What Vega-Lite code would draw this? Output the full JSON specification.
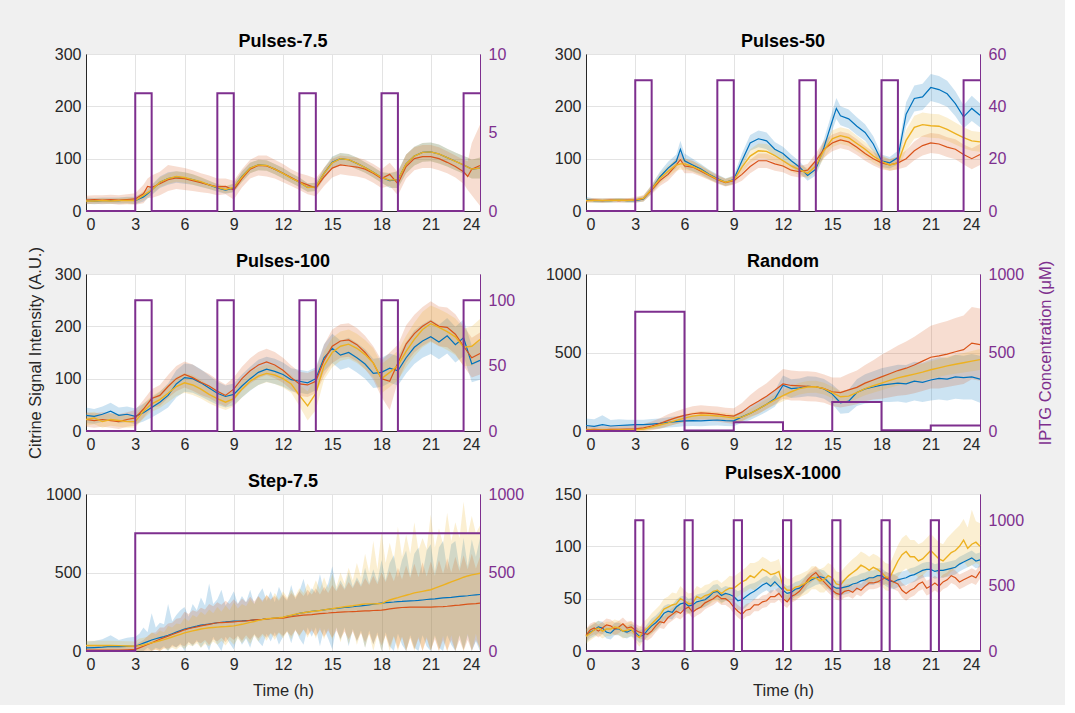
{
"$schema": "https://vega.github.io/schema/vega-lite/v6.json",
"background": "#f0f0f0",
"padding": {"left": 26, "top": 32, "right": 10, "bottom": 6},
"columns": 2,
"bounds": "flush",
"spacing": {"row": 63, "column": 106},
"datasets": {
"p1": [
{"t":0,"b":20,"bl":14,"bh":26,"o":21,"ol":13,"oh":29,"y":19,"yl":14,"yh":24},
{"t":0.5,"b":19,"bl":13,"bh":25,"o":22,"ol":14,"oh":30,"y":19,"yl":14,"yh":24},
{"t":1,"b":20,"bl":14,"bh":26,"o":21,"ol":13,"oh":30,"y":20,"yl":15,"yh":25},
{"t":1.5,"b":20,"bl":14,"bh":26,"o":22,"ol":14,"oh":31,"y":19,"yl":14,"yh":24},
{"t":2,"b":20,"bl":14,"bh":26,"o":21,"ol":12,"oh":30,"y":20,"yl":15,"yh":25},
{"t":2.5,"b":21,"bl":15,"bh":27,"o":22,"ol":13,"oh":32,"y":20,"yl":14,"yh":26},
{"t":3,"b":20,"bl":13,"bh":27,"o":23,"ol":12,"oh":34,"y":20,"yl":14,"yh":26},
{"t":3.5,"b":27,"bl":18,"bh":36,"o":33,"ol":15,"oh":50,"y":30,"yl":22,"yh":38},
{"t":3.75,"b":33,"bl":24,"bh":42,"o":47,"ol":25,"oh":62,"y":35,"yl":27,"yh":43},
{"t":4,"b":40,"bl":30,"bh":50,"o":45,"ol":25,"oh":68,"y":40,"yl":32,"yh":48},
{"t":4.5,"b":55,"bl":44,"bh":66,"o":52,"ol":30,"oh":75,"y":55,"yl":46,"yh":64},
{"t":5,"b":62,"bl":50,"bh":74,"o":60,"ol":38,"oh":88,"y":62,"yl":52,"yh":72},
{"t":5.5,"b":65,"bl":54,"bh":76,"o":63,"ol":42,"oh":85,"y":66,"yl":56,"yh":76},
{"t":6,"b":63,"bl":52,"bh":74,"o":62,"ol":40,"oh":82,"y":64,"yl":54,"yh":74},
{"t":6.5,"b":60,"bl":50,"bh":70,"o":58,"ol":38,"oh":78,"y":60,"yl":50,"yh":70},
{"t":7,"b":55,"bl":46,"bh":64,"o":54,"ol":36,"oh":72,"y":56,"yl":47,"yh":65},
{"t":7.5,"b":50,"bl":42,"bh":58,"o":50,"ol":34,"oh":68,"y":50,"yl":42,"yh":58},
{"t":8,"b":44,"bl":37,"bh":51,"o":46,"ol":30,"oh":62,"y":45,"yl":38,"yh":52},
{"t":8.5,"b":40,"bl":33,"bh":47,"o":47,"ol":32,"oh":62,"y":41,"yl":34,"yh":48},
{"t":9,"b":44,"bl":36,"bh":52,"o":40,"ol":22,"oh":58,"y":45,"yl":37,"yh":53},
{"t":9.5,"b":66,"bl":56,"bh":76,"o":62,"ol":45,"oh":80,"y":65,"yl":55,"yh":75},
{"t":10,"b":82,"bl":72,"bh":92,"o":80,"ol":62,"oh":98,"y":82,"yl":72,"yh":92},
{"t":10.5,"b":88,"bl":78,"bh":98,"o":87,"ol":68,"oh":106,"y":88,"yl":78,"yh":98},
{"t":11,"b":87,"bl":77,"bh":97,"o":86,"ol":66,"oh":106,"y":87,"yl":77,"yh":97},
{"t":11.5,"b":80,"bl":70,"bh":90,"o":80,"ol":62,"oh":98,"y":80,"yl":70,"yh":90},
{"t":12,"b":72,"bl":62,"bh":82,"o":72,"ol":55,"oh":90,"y":72,"yl":62,"yh":82},
{"t":12.5,"b":63,"bl":54,"bh":72,"o":64,"ol":48,"oh":80,"y":63,"yl":54,"yh":72},
{"t":13,"b":55,"bl":46,"bh":64,"o":56,"ol":40,"oh":72,"y":55,"yl":46,"yh":64},
{"t":13.5,"b":45,"bl":37,"bh":53,"o":50,"ol":32,"oh":68,"y":45,"yl":37,"yh":53},
{"t":14,"b":46,"bl":38,"bh":54,"o":44,"ol":28,"oh":62,"y":46,"yl":38,"yh":54},
{"t":14.5,"b":72,"bl":62,"bh":82,"o":65,"ol":48,"oh":82,"y":72,"yl":62,"yh":82},
{"t":15,"b":93,"bl":82,"bh":104,"o":82,"ol":64,"oh":100,"y":92,"yl":81,"yh":103},
{"t":15.5,"b":100,"bl":89,"bh":111,"o":88,"ol":70,"oh":106,"y":100,"yl":89,"yh":111},
{"t":16,"b":98,"bl":87,"bh":109,"o":86,"ol":68,"oh":104,"y":98,"yl":87,"yh":109},
{"t":16.5,"b":91,"bl":80,"bh":102,"o":84,"ol":66,"oh":102,"y":91,"yl":80,"yh":102},
{"t":17,"b":83,"bl":73,"bh":93,"o":80,"ol":62,"oh":98,"y":83,"yl":73,"yh":93},
{"t":17.5,"b":74,"bl":64,"bh":84,"o":72,"ol":54,"oh":90,"y":74,"yl":64,"yh":84},
{"t":18,"b":64,"bl":54,"bh":74,"o":62,"ol":44,"oh":80,"y":64,"yl":54,"yh":74},
{"t":18.5,"b":58,"bl":44,"bh":72,"o":70,"ol":48,"oh":92,"y":59,"yl":45,"yh":73},
{"t":19,"b":60,"bl":44,"bh":76,"o":52,"ol":30,"oh":74,"y":60,"yl":44,"yh":76},
{"t":19.5,"b":90,"bl":72,"bh":108,"o":85,"ol":62,"oh":108,"y":90,"yl":72,"yh":108},
{"t":20,"b":105,"bl":87,"bh":123,"o":100,"ol":78,"oh":122,"y":105,"yl":87,"yh":123},
{"t":20.5,"b":112,"bl":94,"bh":130,"o":104,"ol":82,"oh":126,"y":112,"yl":94,"yh":130},
{"t":21,"b":113,"bl":95,"bh":131,"o":104,"ol":82,"oh":126,"y":113,"yl":95,"yh":131},
{"t":21.5,"b":109,"bl":91,"bh":127,"o":100,"ol":78,"oh":122,"y":109,"yl":91,"yh":127},
{"t":22,"b":102,"bl":85,"bh":119,"o":93,"ol":72,"oh":114,"y":102,"yl":85,"yh":119},
{"t":22.5,"b":95,"bl":78,"bh":112,"o":85,"ol":64,"oh":106,"y":95,"yl":78,"yh":112},
{"t":23,"b":88,"bl":71,"bh":105,"o":75,"ol":52,"oh":98,"y":88,"yl":71,"yh":105},
{"t":23.25,"b":84,"bl":66,"bh":102,"o":66,"ol":40,"oh":95,"y":84,"yl":66,"yh":102},
{"t":23.5,"b":80,"bl":62,"bh":98,"o":80,"ol":30,"oh":130,"y":80,"yl":62,"yh":98},
{"t":24,"b":82,"bl":62,"bh":102,"o":87,"ol":10,"oh":165,"y":82,"yl":62,"yh":102}
],
"p2": [
{"t":0,"b":22,"bl":18,"bh":27,"o":20,"ol":16,"oh":24,"y":20,"yl":16,"yh":24},
{"t":0.5,"b":20,"bl":16,"bh":24,"o":21,"ol":17,"oh":25,"y":20,"yl":16,"yh":24},
{"t":1,"b":20,"bl":16,"bh":24,"o":20,"ol":16,"oh":24,"y":20,"yl":16,"yh":24},
{"t":1.5,"b":20,"bl":16,"bh":24,"o":21,"ol":17,"oh":25,"y":20,"yl":16,"yh":24},
{"t":2,"b":21,"bl":17,"bh":25,"o":20,"ol":16,"oh":24,"y":21,"yl":17,"yh":25},
{"t":2.5,"b":20,"bl":16,"bh":24,"o":21,"ol":17,"oh":25,"y":20,"yl":16,"yh":24},
{"t":3,"b":20,"bl":16,"bh":24,"o":21,"ol":17,"oh":25,"y":21,"yl":16,"yh":27},
{"t":3.5,"b":23,"bl":18,"bh":28,"o":24,"ol":18,"oh":30,"y":24,"yl":18,"yh":30},
{"t":4,"b":42,"bl":34,"bh":50,"o":40,"ol":32,"oh":48,"y":42,"yl":34,"yh":50},
{"t":4.5,"b":65,"bl":55,"bh":75,"o":58,"ol":48,"oh":68,"y":62,"yl":52,"yh":72},
{"t":5,"b":82,"bl":70,"bh":94,"o":70,"ol":58,"oh":82,"y":76,"yl":65,"yh":87},
{"t":5.5,"b":95,"bl":82,"bh":108,"o":88,"ol":75,"oh":101,"y":88,"yl":77,"yh":99},
{"t":5.75,"b":118,"bl":102,"bh":134,"o":98,"ol":84,"oh":112,"y":90,"yl":79,"yh":101},
{"t":6,"b":96,"bl":82,"bh":110,"o":86,"ol":72,"oh":100,"y":90,"yl":79,"yh":101},
{"t":6.5,"b":88,"bl":76,"bh":100,"o":84,"ol":72,"oh":96,"y":85,"yl":75,"yh":95},
{"t":7,"b":80,"bl":70,"bh":90,"o":76,"ol":66,"oh":86,"y":78,"yl":68,"yh":88},
{"t":7.5,"b":70,"bl":61,"bh":79,"o":68,"ol":59,"oh":77,"y":69,"yl":60,"yh":78},
{"t":8,"b":62,"bl":54,"bh":70,"o":60,"ol":52,"oh":68,"y":61,"yl":53,"yh":69},
{"t":8.5,"b":55,"bl":48,"bh":62,"o":54,"ol":47,"oh":61,"y":55,"yl":48,"yh":62},
{"t":9,"b":60,"bl":52,"bh":68,"o":58,"ol":50,"oh":66,"y":59,"yl":51,"yh":67},
{"t":9.5,"b":96,"bl":82,"bh":110,"o":70,"ol":58,"oh":82,"y":84,"yl":72,"yh":96},
{"t":10,"b":130,"bl":115,"bh":145,"o":85,"ol":72,"oh":98,"y":105,"yl":92,"yh":118},
{"t":10.5,"b":138,"bl":122,"bh":154,"o":96,"ol":82,"oh":110,"y":115,"yl":101,"yh":129},
{"t":11,"b":134,"bl":118,"bh":150,"o":96,"ol":82,"oh":110,"y":114,"yl":100,"yh":128},
{"t":11.5,"b":118,"bl":104,"bh":132,"o":90,"ol":77,"oh":103,"y":106,"yl":93,"yh":119},
{"t":12,"b":110,"bl":97,"bh":123,"o":86,"ol":74,"oh":98,"y":96,"yl":84,"yh":108},
{"t":12.5,"b":96,"bl":84,"bh":108,"o":78,"ol":67,"oh":89,"y":86,"yl":75,"yh":97},
{"t":13,"b":84,"bl":73,"bh":95,"o":75,"ol":64,"oh":86,"y":79,"yl":69,"yh":89},
{"t":13.5,"b":68,"bl":58,"bh":78,"o":78,"ol":66,"oh":90,"y":72,"yl":62,"yh":82},
{"t":14,"b":80,"bl":68,"bh":92,"o":96,"ol":82,"oh":110,"y":86,"yl":74,"yh":98},
{"t":14.5,"b":122,"bl":106,"bh":138,"o":118,"ol":102,"oh":134,"y":116,"yl":101,"yh":131},
{"t":15,"b":172,"bl":154,"bh":190,"o":130,"ol":114,"oh":146,"y":138,"yl":122,"yh":154},
{"t":15.25,"b":196,"bl":176,"bh":216,"o":133,"ol":117,"oh":149,"y":141,"yl":125,"yh":157},
{"t":15.5,"b":182,"bl":164,"bh":200,"o":136,"ol":120,"oh":152,"y":144,"yl":128,"yh":160},
{"t":16,"b":176,"bl":158,"bh":194,"o":132,"ol":116,"oh":148,"y":140,"yl":124,"yh":156},
{"t":16.5,"b":162,"bl":145,"bh":179,"o":122,"ol":107,"oh":137,"y":129,"yl":114,"yh":144},
{"t":17,"b":150,"bl":134,"bh":166,"o":110,"ol":96,"oh":124,"y":118,"yl":104,"yh":132},
{"t":17.5,"b":128,"bl":113,"bh":143,"o":100,"ol":87,"oh":113,"y":105,"yl":92,"yh":118},
{"t":18,"b":96,"bl":84,"bh":108,"o":92,"ol":80,"oh":104,"y":95,"yl":83,"yh":107},
{"t":18.5,"b":92,"bl":81,"bh":103,"o":88,"ol":77,"oh":99,"y":88,"yl":77,"yh":99},
{"t":19,"b":102,"bl":89,"bh":115,"o":92,"ol":80,"oh":104,"y":92,"yl":80,"yh":104},
{"t":19.5,"b":185,"bl":162,"bh":208,"o":100,"ol":84,"oh":116,"y":135,"yl":115,"yh":155},
{"t":20,"b":215,"bl":190,"bh":240,"o":115,"ol":97,"oh":133,"y":160,"yl":138,"yh":182},
{"t":20.5,"b":218,"bl":193,"bh":243,"o":125,"ol":106,"oh":144,"y":165,"yl":142,"yh":188},
{"t":21,"b":236,"bl":210,"bh":262,"o":130,"ol":111,"oh":149,"y":163,"yl":140,"yh":186},
{"t":21.5,"b":232,"bl":206,"bh":258,"o":128,"ol":109,"oh":147,"y":162,"yl":139,"yh":185},
{"t":22,"b":224,"bl":199,"bh":249,"o":122,"ol":103,"oh":141,"y":156,"yl":134,"yh":178},
{"t":22.5,"b":205,"bl":181,"bh":229,"o":118,"ol":99,"oh":137,"y":148,"yl":127,"yh":169},
{"t":23,"b":180,"bl":158,"bh":202,"o":108,"ol":89,"oh":127,"y":140,"yl":120,"yh":160},
{"t":23.5,"b":196,"bl":172,"bh":220,"o":100,"ol":80,"oh":120,"y":134,"yl":115,"yh":153},
{"t":24,"b":183,"bl":160,"bh":206,"o":108,"ol":88,"oh":128,"y":132,"yl":113,"yh":151}
],
"p3": [
{"t":0,"b":30,"bl":15,"bh":45,"o":22,"ol":8,"oh":36,"y":22,"yl":10,"yh":34},
{"t":0.5,"b":28,"bl":14,"bh":42,"o":20,"ol":6,"oh":34,"y":25,"yl":13,"yh":37},
{"t":1,"b":32,"bl":17,"bh":47,"o":22,"ol":8,"oh":36,"y":18,"yl":6,"yh":30},
{"t":1.5,"b":38,"bl":22,"bh":54,"o":20,"ol":6,"oh":34,"y":22,"yl":10,"yh":34},
{"t":2,"b":30,"bl":15,"bh":45,"o":18,"ol":4,"oh":32,"y":20,"yl":8,"yh":32},
{"t":2.5,"b":32,"bl":17,"bh":47,"o":22,"ol":8,"oh":36,"y":18,"yl":6,"yh":30},
{"t":3,"b":28,"bl":13,"bh":43,"o":25,"ol":10,"oh":40,"y":18,"yl":6,"yh":30},
{"t":3.5,"b":35,"bl":18,"bh":52,"o":42,"ol":25,"oh":59,"y":38,"yl":24,"yh":52},
{"t":4,"b":45,"bl":26,"bh":64,"o":62,"ol":44,"oh":80,"y":52,"yl":37,"yh":67},
{"t":4.5,"b":55,"bl":35,"bh":75,"o":68,"ol":48,"oh":88,"y":60,"yl":44,"yh":76},
{"t":5,"b":68,"bl":45,"bh":91,"o":85,"ol":63,"oh":107,"y":72,"yl":55,"yh":89},
{"t":5.5,"b":90,"bl":64,"bh":116,"o":100,"ol":76,"oh":124,"y":85,"yl":67,"yh":103},
{"t":6,"b":102,"bl":75,"bh":129,"o":108,"ol":83,"oh":133,"y":92,"yl":73,"yh":111},
{"t":6.5,"b":100,"bl":73,"bh":127,"o":102,"ol":77,"oh":127,"y":88,"yl":69,"yh":107},
{"t":7,"b":92,"bl":66,"bh":118,"o":93,"ol":69,"oh":117,"y":80,"yl":62,"yh":98},
{"t":7.5,"b":82,"bl":58,"bh":106,"o":86,"ol":63,"oh":109,"y":70,"yl":53,"yh":87},
{"t":8,"b":72,"bl":50,"bh":94,"o":76,"ol":54,"oh":98,"y":62,"yl":46,"yh":78},
{"t":8.5,"b":66,"bl":45,"bh":87,"o":68,"ol":47,"oh":89,"y":55,"yl":40,"yh":70},
{"t":9,"b":70,"bl":49,"bh":91,"o":80,"ol":58,"oh":102,"y":62,"yl":47,"yh":77},
{"t":9.5,"b":86,"bl":64,"bh":108,"o":100,"ol":77,"oh":123,"y":80,"yl":64,"yh":96},
{"t":10,"b":100,"bl":77,"bh":123,"o":115,"ol":91,"oh":139,"y":95,"yl":78,"yh":112},
{"t":10.5,"b":112,"bl":88,"bh":136,"o":126,"ol":101,"oh":151,"y":105,"yl":88,"yh":122},
{"t":11,"b":118,"bl":94,"bh":142,"o":132,"ol":107,"oh":157,"y":110,"yl":93,"yh":127},
{"t":11.5,"b":114,"bl":90,"bh":138,"o":126,"ol":101,"oh":151,"y":107,"yl":90,"yh":124},
{"t":12,"b":108,"bl":85,"bh":131,"o":116,"ol":92,"oh":140,"y":100,"yl":83,"yh":117},
{"t":12.5,"b":98,"bl":76,"bh":120,"o":102,"ol":79,"oh":125,"y":90,"yl":73,"yh":107},
{"t":13,"b":95,"bl":73,"bh":117,"o":90,"ol":67,"oh":113,"y":68,"yl":48,"yh":88},
{"t":13.5,"b":92,"bl":70,"bh":114,"o":88,"ol":65,"oh":111,"y":48,"yl":20,"yh":76},
{"t":14,"b":100,"bl":78,"bh":122,"o":95,"ol":72,"oh":118,"y":72,"yl":40,"yh":104},
{"t":14.5,"b":140,"bl":114,"bh":166,"o":135,"ol":105,"oh":165,"y":125,"yl":98,"yh":152},
{"t":15,"b":158,"bl":130,"bh":186,"o":162,"ol":130,"oh":194,"y":150,"yl":122,"yh":178},
{"t":15.5,"b":145,"bl":117,"bh":173,"o":172,"ol":140,"oh":204,"y":162,"yl":134,"yh":190},
{"t":16,"b":150,"bl":122,"bh":178,"o":174,"ol":142,"oh":206,"y":166,"yl":138,"yh":194},
{"t":16.5,"b":140,"bl":112,"bh":168,"o":165,"ol":133,"oh":197,"y":158,"yl":130,"yh":186},
{"t":17,"b":128,"bl":100,"bh":156,"o":150,"ol":118,"oh":182,"y":146,"yl":118,"yh":174},
{"t":17.5,"b":110,"bl":82,"bh":138,"o":130,"ol":98,"oh":162,"y":130,"yl":102,"yh":158},
{"t":18,"b":112,"bl":84,"bh":140,"o":100,"ol":65,"oh":135,"y":100,"yl":72,"yh":128},
{"t":18.5,"b":120,"bl":92,"bh":148,"o":95,"ol":40,"oh":150,"y":112,"yl":84,"yh":140},
{"t":19,"b":115,"bl":87,"bh":143,"o":130,"ol":95,"oh":165,"y":125,"yl":97,"yh":153},
{"t":19.5,"b":140,"bl":110,"bh":170,"o":166,"ol":130,"oh":202,"y":152,"yl":122,"yh":182},
{"t":20,"b":160,"bl":128,"bh":192,"o":186,"ol":150,"oh":222,"y":175,"yl":143,"yh":207},
{"t":20.5,"b":172,"bl":140,"bh":204,"o":200,"ol":163,"oh":237,"y":194,"yl":160,"yh":228},
{"t":21,"b":180,"bl":147,"bh":213,"o":210,"ol":172,"oh":248,"y":205,"yl":170,"yh":240},
{"t":21.5,"b":170,"bl":137,"bh":203,"o":200,"ol":162,"oh":238,"y":198,"yl":163,"yh":233},
{"t":22,"b":182,"bl":148,"bh":216,"o":198,"ol":160,"oh":236,"y":190,"yl":155,"yh":225},
{"t":22.5,"b":165,"bl":131,"bh":199,"o":185,"ol":147,"oh":223,"y":180,"yl":145,"yh":215},
{"t":23,"b":178,"bl":143,"bh":213,"o":162,"ol":124,"oh":200,"y":160,"yl":124,"yh":196},
{"t":23.5,"b":128,"bl":93,"bh":163,"o":140,"ol":102,"oh":178,"y":162,"yl":124,"yh":200},
{"t":24,"b":135,"bl":98,"bh":172,"o":148,"ol":108,"oh":188,"y":175,"yl":136,"yh":214}
],
"p4": [
{"t":0,"b":35,"bl":0,"bh":80,"o":8,"ol":0,"oh":30,"y":5,"yl":0,"yh":20},
{"t":0.5,"b":30,"bl":0,"bh":75,"o":10,"ol":0,"oh":32,"y":5,"yl":0,"yh":20},
{"t":1,"b":40,"bl":0,"bh":100,"o":8,"ol":0,"oh":30,"y":5,"yl":0,"yh":20},
{"t":1.5,"b":32,"bl":0,"bh":70,"o":10,"ol":0,"oh":32,"y":5,"yl":0,"yh":20},
{"t":2,"b":35,"bl":0,"bh":75,"o":10,"ol":0,"oh":32,"y":6,"yl":0,"yh":21},
{"t":2.5,"b":38,"bl":5,"bh":71,"o":12,"ol":0,"oh":35,"y":6,"yl":0,"yh":21},
{"t":3,"b":40,"bl":8,"bh":72,"o":14,"ol":0,"oh":38,"y":8,"yl":0,"yh":24},
{"t":3.5,"b":40,"bl":8,"bh":72,"o":20,"ol":0,"oh":45,"y":12,"yl":0,"yh":30},
{"t":4,"b":44,"bl":12,"bh":76,"o":32,"ol":5,"oh":60,"y":25,"yl":8,"yh":42},
{"t":4.5,"b":48,"bl":16,"bh":80,"o":48,"ol":15,"oh":81,"y":38,"yl":18,"yh":58},
{"t":5,"b":55,"bl":22,"bh":88,"o":68,"ol":30,"oh":106,"y":52,"yl":30,"yh":74},
{"t":5.5,"b":60,"bl":26,"bh":94,"o":85,"ol":44,"oh":126,"y":68,"yl":45,"yh":91},
{"t":6,"b":65,"bl":30,"bh":100,"o":100,"ol":56,"oh":144,"y":82,"yl":58,"yh":106},
{"t":6.5,"b":66,"bl":32,"bh":100,"o":110,"ol":62,"oh":158,"y":95,"yl":70,"yh":120},
{"t":7,"b":65,"bl":30,"bh":100,"o":115,"ol":66,"oh":164,"y":102,"yl":77,"yh":127},
{"t":7.5,"b":68,"bl":33,"bh":103,"o":112,"ol":64,"oh":160,"y":100,"yl":75,"yh":125},
{"t":8,"b":70,"bl":35,"bh":105,"o":108,"ol":60,"oh":156,"y":96,"yl":71,"yh":121},
{"t":8.5,"b":66,"bl":32,"bh":100,"o":100,"ol":52,"oh":148,"y":90,"yl":65,"yh":115},
{"t":9,"b":65,"bl":30,"bh":100,"o":95,"ol":45,"oh":145,"y":82,"yl":57,"yh":107},
{"t":9.5,"b":90,"bl":52,"bh":128,"o":120,"ol":62,"oh":178,"y":88,"yl":62,"yh":114},
{"t":10,"b":112,"bl":70,"bh":154,"o":160,"ol":90,"oh":230,"y":112,"yl":84,"yh":140},
{"t":10.5,"b":140,"bl":95,"bh":185,"o":190,"ol":110,"oh":270,"y":140,"yl":110,"yh":170},
{"t":11,"b":170,"bl":122,"bh":218,"o":222,"ol":140,"oh":304,"y":170,"yl":138,"yh":202},
{"t":11.5,"b":205,"bl":155,"bh":255,"o":260,"ol":170,"oh":350,"y":198,"yl":165,"yh":231},
{"t":12,"b":292,"bl":230,"bh":354,"o":300,"ol":205,"oh":395,"y":225,"yl":190,"yh":260},
{"t":12.5,"b":270,"bl":210,"bh":330,"o":290,"ol":195,"oh":385,"y":250,"yl":214,"yh":286},
{"t":13,"b":275,"bl":215,"bh":335,"o":288,"ol":195,"oh":381,"y":270,"yl":233,"yh":307},
{"t":13.5,"b":285,"bl":222,"bh":348,"o":285,"ol":190,"oh":380,"y":280,"yl":242,"yh":318},
{"t":14,"b":282,"bl":218,"bh":346,"o":282,"ol":188,"oh":376,"y":282,"yl":244,"yh":320},
{"t":14.5,"b":268,"bl":205,"bh":331,"o":270,"ol":180,"oh":360,"y":270,"yl":232,"yh":308},
{"t":15,"b":235,"bl":172,"bh":298,"o":250,"ol":160,"oh":340,"y":245,"yl":208,"yh":282},
{"t":15.5,"b":180,"bl":110,"bh":250,"o":245,"ol":150,"oh":340,"y":218,"yl":180,"yh":256},
{"t":16,"b":190,"bl":115,"bh":265,"o":262,"ol":160,"oh":364,"y":222,"yl":183,"yh":261},
{"t":16.5,"b":245,"bl":160,"bh":330,"o":278,"ol":170,"oh":386,"y":245,"yl":205,"yh":285},
{"t":17,"b":268,"bl":175,"bh":361,"o":305,"ol":190,"oh":420,"y":270,"yl":228,"yh":312},
{"t":17.5,"b":280,"bl":180,"bh":380,"o":325,"ol":200,"oh":450,"y":288,"yl":244,"yh":332},
{"t":18,"b":292,"bl":185,"bh":399,"o":345,"ol":205,"oh":485,"y":305,"yl":260,"yh":350},
{"t":18.5,"b":298,"bl":185,"bh":411,"o":365,"ol":215,"oh":515,"y":322,"yl":275,"yh":369},
{"t":19,"b":305,"bl":188,"bh":422,"o":385,"ol":225,"oh":545,"y":338,"yl":290,"yh":386},
{"t":19.5,"b":300,"bl":180,"bh":420,"o":400,"ol":230,"oh":570,"y":350,"yl":300,"yh":400},
{"t":20,"b":318,"bl":195,"bh":441,"o":420,"ol":240,"oh":600,"y":362,"yl":310,"yh":414},
{"t":20.5,"b":310,"bl":185,"bh":435,"o":445,"ol":255,"oh":635,"y":375,"yl":322,"yh":428},
{"t":21,"b":325,"bl":195,"bh":455,"o":470,"ol":270,"oh":670,"y":390,"yl":335,"yh":445},
{"t":21.5,"b":335,"bl":200,"bh":470,"o":478,"ol":270,"oh":686,"y":402,"yl":345,"yh":459},
{"t":22,"b":330,"bl":195,"bh":465,"o":490,"ol":280,"oh":700,"y":415,"yl":356,"yh":474},
{"t":22.5,"b":345,"bl":205,"bh":485,"o":505,"ol":290,"oh":720,"y":425,"yl":365,"yh":485},
{"t":23,"b":340,"bl":200,"bh":480,"o":518,"ol":300,"oh":736,"y":435,"yl":373,"yh":497},
{"t":23.5,"b":345,"bl":200,"bh":490,"o":560,"ol":330,"oh":790,"y":445,"yl":380,"yh":510},
{"t":24,"b":330,"bl":180,"bh":480,"o":550,"ol":320,"oh":780,"y":455,"yl":388,"yh":522}
],
"p5": [
{"t":0,"b":20,"bl":0,"bh":60,"o":5,"ol":0,"oh":30,"y":35,"yl":5,"yh":65},
{"t":0.5,"b":22,"bl":0,"bh":64,"o":5,"ol":0,"oh":30,"y":35,"yl":5,"yh":65},
{"t":1,"b":25,"bl":0,"bh":75,"o":6,"ol":0,"oh":32,"y":36,"yl":6,"yh":66},
{"t":1.5,"b":30,"bl":0,"bh":100,"o":6,"ol":0,"oh":32,"y":35,"yl":5,"yh":65},
{"t":2,"b":28,"bl":0,"bh":70,"o":6,"ol":0,"oh":32,"y":34,"yl":4,"yh":64},
{"t":2.5,"b":30,"bl":0,"bh":85,"o":8,"ol":0,"oh":35,"y":32,"yl":2,"yh":62},
{"t":3,"b":30,"bl":0,"bh":90,"o":10,"ol":0,"oh":38,"y":30,"yl":0,"yh":60},
{"t":3.25,"b":40,"bl":0,"bh":110,"o":20,"ol":0,"oh":55,"y":34,"yl":0,"yh":80},
{"t":3.5,"b":50,"bl":0,"bh":150,"o":30,"ol":0,"oh":70,"y":38,"yl":0,"yh":85},
{"t":3.75,"b":60,"bl":20,"bh":120,"o":42,"ol":0,"oh":95,"y":45,"yl":5,"yh":90},
{"t":4,"b":70,"bl":0,"bh":240,"o":52,"ol":0,"oh":115,"y":52,"yl":0,"yh":120},
{"t":4.25,"b":78,"bl":20,"bh":150,"o":64,"ol":10,"oh":120,"y":58,"yl":10,"yh":105},
{"t":4.5,"b":85,"bl":10,"bh":180,"o":75,"ol":0,"oh":150,"y":65,"yl":0,"yh":130},
{"t":4.75,"b":92,"bl":30,"bh":170,"o":85,"ol":20,"oh":150,"y":72,"yl":15,"yh":120},
{"t":5,"b":100,"bl":0,"bh":300,"o":95,"ol":15,"oh":175,"y":80,"yl":5,"yh":160},
{"t":5.25,"b":110,"bl":40,"bh":190,"o":105,"ol":30,"oh":180,"y":89,"yl":20,"yh":150},
{"t":5.5,"b":120,"bl":20,"bh":230,"o":115,"ol":25,"oh":205,"y":98,"yl":10,"yh":175},
{"t":5.75,"b":130,"bl":50,"bh":260,"o":125,"ol":40,"oh":210,"y":106,"yl":30,"yh":170},
{"t":6,"b":140,"bl":0,"bh":280,"o":135,"ol":30,"oh":250,"y":115,"yl":15,"yh":210},
{"t":6.25,"b":146,"bl":60,"bh":220,"o":142,"ol":55,"oh":235,"y":122,"yl":40,"yh":190},
{"t":6.5,"b":152,"bl":30,"bh":300,"o":148,"ol":40,"oh":260,"y":128,"yl":30,"yh":230},
{"t":6.75,"b":158,"bl":70,"bh":260,"o":154,"ol":60,"oh":250,"y":134,"yl":50,"yh":215},
{"t":7,"b":165,"bl":20,"bh":340,"o":160,"ol":50,"oh":275,"y":140,"yl":20,"yh":250},
{"t":7.25,"b":168,"bl":60,"bh":290,"o":165,"ol":70,"oh":265,"y":144,"yl":45,"yh":230},
{"t":7.5,"b":172,"bl":0,"bh":430,"o":170,"ol":40,"oh":300,"y":148,"yl":30,"yh":265},
{"t":7.75,"b":176,"bl":90,"bh":300,"o":175,"ol":75,"oh":285,"y":150,"yl":60,"yh":240},
{"t":8,"b":180,"bl":40,"bh":330,"o":180,"ol":60,"oh":310,"y":152,"yl":40,"yh":280},
{"t":8.25,"b":183,"bl":0,"bh":390,"o":181,"ol":85,"oh":295,"y":154,"yl":65,"yh":250},
{"t":8.5,"b":185,"bl":90,"bh":290,"o":182,"ol":55,"oh":320,"y":155,"yl":35,"yh":290},
{"t":8.75,"b":188,"bl":50,"bh":330,"o":184,"ol":90,"oh":300,"y":158,"yl":70,"yh":260},
{"t":9,"b":190,"bl":10,"bh":380,"o":185,"ol":70,"oh":330,"y":160,"yl":40,"yh":310},
{"t":9.25,"b":191,"bl":100,"bh":300,"o":188,"ol":95,"oh":300,"y":165,"yl":80,"yh":270},
{"t":9.5,"b":192,"bl":40,"bh":350,"o":190,"ol":65,"oh":335,"y":170,"yl":50,"yh":300},
{"t":9.75,"b":194,"bl":80,"bh":310,"o":192,"ol":100,"oh":310,"y":176,"yl":85,"yh":285},
{"t":10,"b":195,"bl":20,"bh":390,"o":195,"ol":70,"oh":345,"y":182,"yl":45,"yh":330},
{"t":10.25,"b":198,"bl":110,"bh":300,"o":198,"ol":105,"oh":315,"y":188,"yl":95,"yh":300},
{"t":10.5,"b":200,"bl":60,"bh":360,"o":200,"ol":80,"oh":350,"y":195,"yl":60,"yh":345},
{"t":10.75,"b":202,"bl":30,"bh":400,"o":202,"ol":110,"oh":320,"y":200,"yl":100,"yh":310},
{"t":11,"b":205,"bl":110,"bh":320,"o":205,"ol":85,"oh":355,"y":205,"yl":65,"yh":360},
{"t":11.25,"b":207,"bl":60,"bh":380,"o":206,"ol":115,"oh":330,"y":208,"yl":110,"yh":320},
{"t":11.5,"b":210,"bl":120,"bh":310,"o":208,"ol":90,"oh":350,"y":210,"yl":70,"yh":370},
{"t":11.75,"b":212,"bl":40,"bh":410,"o":209,"ol":120,"oh":320,"y":212,"yl":115,"yh":330},
{"t":12,"b":215,"bl":90,"bh":350,"o":210,"ol":95,"oh":360,"y":215,"yl":80,"yh":380},
{"t":12.25,"b":220,"bl":130,"bh":320,"o":214,"ol":125,"oh":330,"y":222,"yl":125,"yh":340},
{"t":12.5,"b":225,"bl":50,"bh":420,"o":218,"ol":95,"oh":370,"y":228,"yl":75,"yh":390},
{"t":12.75,"b":232,"bl":140,"bh":330,"o":222,"ol":130,"oh":340,"y":234,"yl":135,"yh":350},
{"t":13,"b":240,"bl":80,"bh":380,"o":225,"ol":100,"oh":380,"y":240,"yl":90,"yh":400},
{"t":13.25,"b":244,"bl":40,"bh":460,"o":228,"ol":135,"oh":350,"y":244,"yl":140,"yh":370},
{"t":13.5,"b":248,"bl":150,"bh":350,"o":230,"ol":100,"oh":390,"y":248,"yl":85,"yh":430},
{"t":13.75,"b":252,"bl":90,"bh":400,"o":232,"ol":130,"oh":360,"y":252,"yl":145,"yh":380},
{"t":14,"b":255,"bl":150,"bh":370,"o":235,"ol":95,"oh":400,"y":255,"yl":80,"yh":450},
{"t":14.25,"b":258,"bl":30,"bh":490,"o":238,"ol":135,"oh":360,"y":258,"yl":150,"yh":390},
{"t":14.5,"b":262,"bl":140,"bh":380,"o":240,"ol":90,"oh":410,"y":262,"yl":75,"yh":470},
{"t":14.75,"b":266,"bl":80,"bh":430,"o":242,"ol":130,"oh":370,"y":266,"yl":145,"yh":400},
{"t":15,"b":270,"bl":10,"bh":540,"o":245,"ol":85,"oh":420,"y":270,"yl":70,"yh":490},
{"t":15.25,"b":272,"bl":150,"bh":390,"o":246,"ol":130,"oh":380,"y":274,"yl":150,"yh":410},
{"t":15.5,"b":275,"bl":70,"bh":450,"o":248,"ol":80,"oh":430,"y":278,"yl":55,"yh":500},
{"t":15.75,"b":278,"bl":150,"bh":400,"o":249,"ol":125,"oh":390,"y":282,"yl":140,"yh":430},
{"t":16,"b":280,"bl":30,"bh":500,"o":250,"ol":75,"oh":440,"y":285,"yl":45,"yh":530},
{"t":16.25,"b":282,"bl":140,"bh":410,"o":251,"ol":125,"oh":400,"y":288,"yl":135,"yh":450},
{"t":16.5,"b":285,"bl":60,"bh":470,"o":252,"ol":65,"oh":450,"y":292,"yl":40,"yh":560},
{"t":16.75,"b":288,"bl":130,"bh":420,"o":254,"ol":115,"oh":410,"y":296,"yl":120,"yh":470},
{"t":17,"b":290,"bl":20,"bh":530,"o":255,"ol":55,"oh":465,"y":300,"yl":20,"yh":620},
{"t":17.25,"b":294,"bl":130,"bh":430,"o":256,"ol":110,"oh":420,"y":300,"yl":110,"yh":500},
{"t":17.5,"b":298,"bl":40,"bh":520,"o":258,"ol":45,"oh":480,"y":300,"yl":0,"yh":700},
{"t":17.75,"b":302,"bl":120,"bh":440,"o":259,"ol":105,"oh":425,"y":301,"yl":100,"yh":520},
{"t":18,"b":305,"bl":0,"bh":580,"o":260,"ol":35,"oh":500,"y":302,"yl":0,"yh":760},
{"t":18.25,"b":308,"bl":120,"bh":450,"o":264,"ol":100,"oh":440,"y":314,"yl":100,"yh":560},
{"t":18.5,"b":310,"bl":30,"bh":560,"o":268,"ol":25,"oh":510,"y":325,"yl":0,"yh":690},
{"t":18.75,"b":312,"bl":0,"bh":610,"o":272,"ol":95,"oh":445,"y":333,"yl":90,"yh":580},
{"t":19,"b":315,"bl":110,"bh":470,"o":275,"ol":15,"oh":530,"y":340,"yl":0,"yh":790},
{"t":19.25,"b":316,"bl":40,"bh":580,"o":277,"ol":90,"oh":455,"y":348,"yl":90,"yh":600},
{"t":19.5,"b":318,"bl":0,"bh":640,"o":278,"ol":0,"oh":545,"y":355,"yl":0,"yh":740},
{"t":19.75,"b":319,"bl":100,"bh":480,"o":279,"ol":85,"oh":465,"y":362,"yl":85,"yh":620},
{"t":20,"b":320,"bl":20,"bh":620,"o":280,"ol":10,"oh":555,"y":370,"yl":0,"yh":820},
{"t":20.25,"b":322,"bl":0,"bh":660,"o":280,"ol":80,"oh":470,"y":375,"yl":90,"yh":640},
{"t":20.5,"b":325,"bl":100,"bh":490,"o":280,"ol":0,"oh":565,"y":380,"yl":0,"yh":720},
{"t":20.75,"b":328,"bl":30,"bh":640,"o":280,"ol":80,"oh":475,"y":385,"yl":90,"yh":650},
{"t":21,"b":330,"bl":0,"bh":680,"o":280,"ol":5,"oh":570,"y":390,"yl":0,"yh":870},
{"t":21.25,"b":332,"bl":100,"bh":500,"o":281,"ol":75,"oh":480,"y":400,"yl":90,"yh":660},
{"t":21.5,"b":335,"bl":20,"bh":660,"o":282,"ol":0,"oh":580,"y":410,"yl":0,"yh":780},
{"t":21.75,"b":338,"bl":0,"bh":700,"o":283,"ol":70,"oh":490,"y":420,"yl":95,"yh":680},
{"t":22,"b":340,"bl":100,"bh":520,"o":285,"ol":0,"oh":590,"y":430,"yl":0,"yh":880},
{"t":22.25,"b":342,"bl":40,"bh":680,"o":288,"ol":70,"oh":500,"y":440,"yl":100,"yh":700},
{"t":22.5,"b":345,"bl":0,"bh":700,"o":290,"ol":0,"oh":600,"y":450,"yl":0,"yh":820},
{"t":22.75,"b":348,"bl":100,"bh":530,"o":292,"ol":70,"oh":510,"y":460,"yl":100,"yh":720},
{"t":23,"b":350,"bl":10,"bh":720,"o":295,"ol":0,"oh":610,"y":470,"yl":0,"yh":950},
{"t":23.25,"b":352,"bl":100,"bh":540,"o":298,"ol":70,"oh":520,"y":478,"yl":110,"yh":740},
{"t":23.5,"b":355,"bl":0,"bh":710,"o":300,"ol":0,"oh":620,"y":485,"yl":0,"yh":860},
{"t":23.75,"b":358,"bl":60,"bh":600,"o":302,"ol":70,"oh":525,"y":490,"yl":110,"yh":750},
{"t":24,"b":360,"bl":0,"bh":720,"o":305,"ol":20,"oh":600,"y":495,"yl":0,"yh":800}
],
"p6": [
{"t":0,"b":14,"bl":8,"bh":20,"o":15,"ol":9,"oh":21,"y":14,"yl":7,"yh":21},
{"t":0.25,"b":18,"bl":12,"bh":24,"o":20,"ol":14,"oh":26,"y":17,"yl":10,"yh":24},
{"t":0.5,"b":20,"bl":14,"bh":26,"o":22,"ol":16,"oh":28,"y":20,"yl":13,"yh":27},
{"t":0.75,"b":23,"bl":17,"bh":29,"o":19,"ol":13,"oh":25,"y":22,"yl":15,"yh":29},
{"t":1,"b":22,"bl":16,"bh":28,"o":22,"ol":16,"oh":28,"y":19,"yl":12,"yh":26},
{"t":1.25,"b":18,"bl":12,"bh":24,"o":25,"ol":19,"oh":31,"y":21,"yl":14,"yh":28},
{"t":1.5,"b":17,"bl":11,"bh":23,"o":24,"ol":18,"oh":30,"y":21,"yl":14,"yh":28},
{"t":1.75,"b":21,"bl":15,"bh":27,"o":21,"ol":15,"oh":27,"y":23,"yl":16,"yh":30},
{"t":2,"b":21,"bl":15,"bh":27,"o":23,"ol":17,"oh":29,"y":22,"yl":15,"yh":29},
{"t":2.25,"b":19,"bl":13,"bh":25,"o":26,"ol":20,"oh":32,"y":19,"yl":12,"yh":26},
{"t":2.5,"b":18,"bl":12,"bh":24,"o":22,"ol":16,"oh":28,"y":20,"yl":13,"yh":27},
{"t":2.75,"b":20,"bl":14,"bh":26,"o":23,"ol":17,"oh":29,"y":21,"yl":14,"yh":28},
{"t":3,"b":18,"bl":12,"bh":24,"o":20,"ol":14,"oh":26,"y":16,"yl":9,"yh":23},
{"t":3.25,"b":14,"bl":8,"bh":20,"o":18,"ol":12,"oh":24,"y":13,"yl":4,"yh":22},
{"t":3.5,"b":15,"bl":9,"bh":21,"o":17,"ol":11,"oh":23,"y":19,"yl":10,"yh":28},
{"t":3.75,"b":20,"bl":14,"bh":26,"o":16,"ol":10,"oh":22,"y":22,"yl":13,"yh":31},
{"t":4,"b":24,"bl":17,"bh":31,"o":19,"ol":13,"oh":25,"y":26,"yl":16,"yh":36},
{"t":4.25,"b":27,"bl":20,"bh":34,"o":24,"ol":18,"oh":30,"y":30,"yl":20,"yh":40},
{"t":4.5,"b":31,"bl":24,"bh":38,"o":28,"ol":22,"oh":34,"y":34,"yl":24,"yh":44},
{"t":4.75,"b":36,"bl":29,"bh":43,"o":27,"ol":21,"oh":33,"y":40,"yl":30,"yh":50},
{"t":5,"b":38,"bl":31,"bh":45,"o":32,"ol":26,"oh":38,"y":42,"yl":32,"yh":52},
{"t":5.25,"b":37,"bl":30,"bh":44,"o":35,"ol":29,"oh":41,"y":44,"yl":34,"yh":56},
{"t":5.5,"b":42,"bl":35,"bh":49,"o":38,"ol":32,"oh":44,"y":45,"yl":35,"yh":55},
{"t":5.75,"b":45,"bl":38,"bh":52,"o":36,"ol":30,"oh":42,"y":50,"yl":40,"yh":62},
{"t":6,"b":46,"bl":39,"bh":53,"o":40,"ol":34,"oh":46,"y":48,"yl":38,"yh":58},
{"t":6.25,"b":43,"bl":36,"bh":50,"o":42,"ol":36,"oh":48,"y":45,"yl":35,"yh":55},
{"t":6.5,"b":44,"bl":37,"bh":51,"o":37,"ol":31,"oh":43,"y":46,"yl":36,"yh":56},
{"t":6.75,"b":47,"bl":40,"bh":54,"o":40,"ol":34,"oh":46,"y":52,"yl":42,"yh":62},
{"t":7,"b":48,"bl":41,"bh":55,"o":42,"ol":36,"oh":48,"y":50,"yl":40,"yh":60},
{"t":7.25,"b":49,"bl":42,"bh":56,"o":46,"ol":40,"oh":52,"y":53,"yl":43,"yh":63},
{"t":7.5,"b":52,"bl":45,"bh":59,"o":48,"ol":42,"oh":54,"y":54,"yl":44,"yh":64},
{"t":7.75,"b":56,"bl":49,"bh":63,"o":50,"ol":44,"oh":56,"y":57,"yl":47,"yh":67},
{"t":8,"b":57,"bl":50,"bh":64,"o":53,"ol":47,"oh":59,"y":58,"yl":48,"yh":68},
{"t":8.25,"b":53,"bl":46,"bh":60,"o":50,"ol":44,"oh":56,"y":55,"yl":45,"yh":65},
{"t":8.5,"b":55,"bl":48,"bh":62,"o":50,"ol":44,"oh":56,"y":58,"yl":48,"yh":68},
{"t":8.75,"b":54,"bl":47,"bh":61,"o":47,"ol":41,"oh":53,"y":60,"yl":50,"yh":72},
{"t":9,"b":52,"bl":44,"bh":60,"o":42,"ol":36,"oh":48,"y":60,"yl":49,"yh":71},
{"t":9.25,"b":48,"bl":39,"bh":57,"o":38,"ol":32,"oh":44,"y":63,"yl":52,"yh":74},
{"t":9.5,"b":49,"bl":39,"bh":59,"o":35,"ol":29,"oh":41,"y":66,"yl":55,"yh":77},
{"t":9.75,"b":52,"bl":42,"bh":62,"o":39,"ol":33,"oh":45,"y":68,"yl":57,"yh":80},
{"t":10,"b":55,"bl":46,"bh":64,"o":40,"ol":34,"oh":46,"y":72,"yl":60,"yh":84},
{"t":10.25,"b":57,"bl":49,"bh":65,"o":44,"ol":38,"oh":50,"y":70,"yl":58,"yh":84},
{"t":10.5,"b":60,"bl":53,"bh":67,"o":44,"ol":38,"oh":50,"y":74,"yl":62,"yh":86},
{"t":10.75,"b":63,"bl":56,"bh":70,"o":47,"ol":41,"oh":53,"y":78,"yl":66,"yh":90},
{"t":11,"b":65,"bl":58,"bh":72,"o":48,"ol":42,"oh":54,"y":76,"yl":64,"yh":88},
{"t":11.25,"b":62,"bl":55,"bh":69,"o":52,"ol":46,"oh":58,"y":73,"yl":61,"yh":85},
{"t":11.5,"b":66,"bl":59,"bh":73,"o":52,"ol":46,"oh":58,"y":74,"yl":62,"yh":86},
{"t":11.75,"b":62,"bl":55,"bh":69,"o":55,"ol":49,"oh":61,"y":76,"yl":64,"yh":88},
{"t":12,"b":58,"bl":51,"bh":65,"o":50,"ol":44,"oh":56,"y":62,"yl":51,"yh":73},
{"t":12.25,"b":55,"bl":48,"bh":62,"o":47,"ol":41,"oh":53,"y":58,"yl":47,"yh":69},
{"t":12.5,"b":56,"bl":49,"bh":63,"o":52,"ol":46,"oh":58,"y":58,"yl":47,"yh":69},
{"t":12.75,"b":59,"bl":52,"bh":66,"o":54,"ol":48,"oh":60,"y":61,"yl":50,"yh":72},
{"t":13,"b":60,"bl":53,"bh":67,"o":57,"ol":51,"oh":63,"y":62,"yl":51,"yh":73},
{"t":13.25,"b":63,"bl":56,"bh":70,"o":62,"ol":56,"oh":68,"y":64,"yl":53,"yh":75},
{"t":13.5,"b":66,"bl":59,"bh":73,"o":68,"ol":62,"oh":74,"y":66,"yl":55,"yh":77},
{"t":13.75,"b":68,"bl":61,"bh":75,"o":72,"ol":66,"oh":78,"y":70,"yl":59,"yh":81},
{"t":14,"b":70,"bl":63,"bh":77,"o":75,"ol":69,"oh":81,"y":70,"yl":59,"yh":81},
{"t":14.25,"b":71,"bl":64,"bh":78,"o":70,"ol":64,"oh":76,"y":67,"yl":56,"yh":78},
{"t":14.5,"b":70,"bl":63,"bh":77,"o":66,"ol":60,"oh":72,"y":68,"yl":56,"yh":80},
{"t":14.75,"b":66,"bl":59,"bh":73,"o":62,"ol":56,"oh":68,"y":72,"yl":60,"yh":84},
{"t":15,"b":62,"bl":55,"bh":69,"o":58,"ol":52,"oh":64,"y":70,"yl":58,"yh":82},
{"t":15.25,"b":60,"bl":53,"bh":67,"o":55,"ol":49,"oh":61,"y":64,"yl":52,"yh":76},
{"t":15.5,"b":60,"bl":53,"bh":67,"o":54,"ol":48,"oh":60,"y":63,"yl":51,"yh":75},
{"t":15.75,"b":61,"bl":54,"bh":68,"o":57,"ol":51,"oh":63,"y":68,"yl":56,"yh":80},
{"t":16,"b":62,"bl":55,"bh":69,"o":58,"ol":52,"oh":64,"y":72,"yl":60,"yh":84},
{"t":16.25,"b":64,"bl":57,"bh":71,"o":56,"ol":50,"oh":62,"y":75,"yl":62,"yh":88},
{"t":16.5,"b":65,"bl":58,"bh":72,"o":60,"ol":54,"oh":66,"y":78,"yl":65,"yh":91},
{"t":16.75,"b":67,"bl":60,"bh":74,"o":58,"ol":52,"oh":64,"y":82,"yl":69,"yh":95},
{"t":17,"b":68,"bl":61,"bh":75,"o":62,"ol":56,"oh":68,"y":80,"yl":67,"yh":93},
{"t":17.25,"b":70,"bl":63,"bh":77,"o":65,"ol":59,"oh":71,"y":77,"yl":64,"yh":90},
{"t":17.5,"b":70,"bl":63,"bh":77,"o":65,"ol":59,"oh":71,"y":80,"yl":67,"yh":93},
{"t":17.75,"b":72,"bl":65,"bh":79,"o":66,"ol":60,"oh":72,"y":78,"yl":65,"yh":91},
{"t":18,"b":72,"bl":65,"bh":79,"o":68,"ol":62,"oh":74,"y":75,"yl":62,"yh":88},
{"t":18.25,"b":69,"bl":62,"bh":76,"o":70,"ol":64,"oh":76,"y":71,"yl":58,"yh":84},
{"t":18.5,"b":67,"bl":60,"bh":74,"o":68,"ol":62,"oh":74,"y":70,"yl":57,"yh":83},
{"t":18.75,"b":66,"bl":59,"bh":73,"o":66,"ol":59,"oh":73,"y":78,"yl":64,"yh":92},
{"t":19,"b":68,"bl":61,"bh":75,"o":64,"ol":57,"oh":71,"y":86,"yl":71,"yh":101},
{"t":19.25,"b":69,"bl":62,"bh":76,"o":58,"ol":51,"oh":65,"y":92,"yl":76,"yh":108},
{"t":19.5,"b":70,"bl":63,"bh":77,"o":55,"ol":48,"oh":62,"y":95,"yl":79,"yh":111},
{"t":19.75,"b":72,"bl":65,"bh":79,"o":58,"ol":51,"oh":65,"y":90,"yl":74,"yh":106},
{"t":20,"b":73,"bl":66,"bh":80,"o":60,"ol":53,"oh":67,"y":90,"yl":74,"yh":106},
{"t":20.25,"b":75,"bl":68,"bh":82,"o":64,"ol":57,"oh":71,"y":86,"yl":70,"yh":102},
{"t":20.5,"b":77,"bl":70,"bh":84,"o":66,"ol":59,"oh":73,"y":88,"yl":72,"yh":104},
{"t":20.75,"b":78,"bl":71,"bh":85,"o":60,"ol":53,"oh":67,"y":92,"yl":76,"yh":108},
{"t":21,"b":78,"bl":71,"bh":85,"o":62,"ol":55,"oh":69,"y":96,"yl":80,"yh":112},
{"t":21.25,"b":76,"bl":69,"bh":83,"o":65,"ol":58,"oh":72,"y":92,"yl":76,"yh":108},
{"t":21.5,"b":77,"bl":70,"bh":84,"o":62,"ol":55,"oh":69,"y":88,"yl":72,"yh":104},
{"t":21.75,"b":77,"bl":70,"bh":84,"o":66,"ol":59,"oh":73,"y":86,"yl":70,"yh":102},
{"t":22,"b":78,"bl":71,"bh":85,"o":68,"ol":61,"oh":75,"y":90,"yl":72,"yh":108},
{"t":22.25,"b":79,"bl":72,"bh":86,"o":72,"ol":65,"oh":79,"y":94,"yl":76,"yh":112},
{"t":22.5,"b":80,"bl":73,"bh":87,"o":70,"ol":63,"oh":77,"y":96,"yl":78,"yh":116},
{"t":22.75,"b":83,"bl":76,"bh":90,"o":66,"ol":59,"oh":73,"y":100,"yl":82,"yh":120},
{"t":23,"b":85,"bl":78,"bh":92,"o":68,"ol":61,"oh":75,"y":106,"yl":86,"yh":126},
{"t":23.25,"b":87,"bl":80,"bh":94,"o":70,"ol":63,"oh":77,"y":98,"yl":80,"yh":118},
{"t":23.5,"b":89,"bl":82,"bh":96,"o":72,"ol":65,"oh":79,"y":102,"yl":82,"yh":135},
{"t":23.75,"b":86,"bl":79,"bh":93,"o":70,"ol":63,"oh":77,"y":104,"yl":84,"yh":124},
{"t":24,"b":87,"bl":80,"bh":94,"o":76,"ol":69,"oh":83,"y":100,"yl":82,"yh":122}
],
"i1": [{"t":0,"c":0},{"t":3,"c":7.5},{"t":4,"c":0},{"t":8,"c":7.5},{"t":9,"c":0},{"t":13,"c":7.5},{"t":14,"c":0},{"t":18,"c":7.5},{"t":19,"c":0},{"t":23,"c":7.5},{"t":24,"c":7.5}],
"i2": [{"t":0,"c":0},{"t":3,"c":50},{"t":4,"c":0},{"t":8,"c":50},{"t":9,"c":0},{"t":13,"c":50},{"t":14,"c":0},{"t":18,"c":50},{"t":19,"c":0},{"t":23,"c":50},{"t":24,"c":50}],
"i3": [{"t":0,"c":0},{"t":3,"c":100},{"t":4,"c":0},{"t":8,"c":100},{"t":9,"c":0},{"t":13,"c":100},{"t":14,"c":0},{"t":18,"c":100},{"t":19,"c":0},{"t":23,"c":100},{"t":24,"c":100}],
"i4": [{"t":0,"c":0},{"t":3,"c":760},{"t":6,"c":3},{"t":9,"c":55},{"t":12,"c":0},{"t":15,"c":185},{"t":18,"c":5},{"t":21,"c":35},{"t":24,"c":35}],
"i5": [{"t":0,"c":0},{"t":3,"c":750},{"t":24,"c":750}],
"i6": [{"t":0,"c":0},{"t":3,"c":1000},{"t":3.5,"c":0},{"t":6,"c":1000},{"t":6.5,"c":0},{"t":9,"c":1000},{"t":9.5,"c":0},{"t":12,"c":1000},{"t":12.5,"c":0},{"t":15,"c":1000},{"t":15.5,"c":0},{"t":18,"c":1000},{"t":18.5,"c":0},{"t":21,"c":1000},{"t":21.5,"c":0},{"t":24,"c":0}]
},
"concat": [
{"title": {"text": "Pulses-7.5", "dy": 11}, "width": 394, "height": 157,
 "layer": [
  {"data": {"name": "p1"},
   "encoding": {"x": {"field": "t", "type": "quantitative", "scale": {"domain": [0, 24], "nice": false}, "axis": {"values": [0,3,6,9,12,15,18,21,24], "title": null}}},
   "layer": [
    {"mark": {"type": "area", "color": "#0072BD", "opacity": 0.2}, "encoding": {"y": {"field": "bl", "type": "quantitative", "scale": {"domain": [0, 300], "nice": false}, "axis": {"orient": "left", "values": [0,100,200,300], "title": null}}, "y2": {"field": "bh"}}},
    {"mark": {"type": "area", "color": "#D95319", "opacity": 0.2}, "encoding": {"y": {"field": "ol", "type": "quantitative"}, "y2": {"field": "oh"}}},
    {"mark": {"type": "area", "color": "#EDB120", "opacity": 0.2}, "encoding": {"y": {"field": "yl", "type": "quantitative"}, "y2": {"field": "yh"}}},
    {"mark": {"type": "line", "color": "#0072BD", "strokeWidth": 1.2}, "encoding": {"y": {"field": "b", "type": "quantitative"}}},
    {"mark": {"type": "line", "color": "#D95319", "strokeWidth": 1.2}, "encoding": {"y": {"field": "o", "type": "quantitative"}}},
    {"mark": {"type": "line", "color": "#EDB120", "strokeWidth": 1.4}, "encoding": {"y": {"field": "y", "type": "quantitative"}}}
   ]},
  {"data": {"name": "i1"}, "mark": {"type": "line", "interpolate": "step-after", "color": "#7E2F8E", "strokeWidth": 2},
   "encoding": {"x": {"field": "t", "type": "quantitative"}, "y": {"field": "c", "type": "quantitative", "scale": {"domain": [0, 10], "nice": false}, "axis": {"orient": "right", "values": [0,5,10], "title": null, "grid": false, "labelPadding": 8, "labelColor": "#7E2F8E", "domainColor": "#7E2F8E"}}}}
 ],
 "resolve": {"scale": {"y": "independent"}, "axis": {"y": "independent"}}},
{"title": {"text": "Pulses-50", "dy": 11}, "width": 394, "height": 157,
 "layer": [
  {"data": {"name": "p2"},
   "encoding": {"x": {"field": "t", "type": "quantitative", "scale": {"domain": [0, 24], "nice": false}, "axis": {"values": [0,3,6,9,12,15,18,21,24], "title": null}}},
   "layer": [
    {"mark": {"type": "area", "color": "#0072BD", "opacity": 0.2}, "encoding": {"y": {"field": "bl", "type": "quantitative", "scale": {"domain": [0, 300], "nice": false}, "axis": {"orient": "left", "values": [0,100,200,300], "title": null}}, "y2": {"field": "bh"}}},
    {"mark": {"type": "area", "color": "#D95319", "opacity": 0.2}, "encoding": {"y": {"field": "ol", "type": "quantitative"}, "y2": {"field": "oh"}}},
    {"mark": {"type": "area", "color": "#EDB120", "opacity": 0.2}, "encoding": {"y": {"field": "yl", "type": "quantitative"}, "y2": {"field": "yh"}}},
    {"mark": {"type": "line", "color": "#0072BD", "strokeWidth": 1.2}, "encoding": {"y": {"field": "b", "type": "quantitative"}}},
    {"mark": {"type": "line", "color": "#D95319", "strokeWidth": 1.2}, "encoding": {"y": {"field": "o", "type": "quantitative"}}},
    {"mark": {"type": "line", "color": "#EDB120", "strokeWidth": 1.4}, "encoding": {"y": {"field": "y", "type": "quantitative"}}}
   ]},
  {"data": {"name": "i2"}, "mark": {"type": "line", "interpolate": "step-after", "color": "#7E2F8E", "strokeWidth": 2},
   "encoding": {"x": {"field": "t", "type": "quantitative"}, "y": {"field": "c", "type": "quantitative", "scale": {"domain": [0, 60], "nice": false}, "axis": {"orient": "right", "values": [0,20,40,60], "title": null, "grid": false, "labelPadding": 8, "labelColor": "#7E2F8E", "domainColor": "#7E2F8E"}}}}
 ],
 "resolve": {"scale": {"y": "independent"}, "axis": {"y": "independent"}}},
{"title": {"text": "Pulses-100", "dy": 30}, "width": 394, "height": 157,
 "layer": [
  {"data": {"name": "p3"},
   "encoding": {"x": {"field": "t", "type": "quantitative", "scale": {"domain": [0, 24], "nice": false}, "axis": {"values": [0,3,6,9,12,15,18,21,24], "title": null}}},
   "layer": [
    {"mark": {"type": "area", "color": "#0072BD", "opacity": 0.2}, "encoding": {"y": {"field": "bl", "type": "quantitative", "scale": {"domain": [0, 300], "nice": false}, "axis": {"orient": "left", "values": [0,100,200,300], "title": "Citrine Signal Intensity (A.U.)", "titlePadding": 11}}, "y2": {"field": "bh"}}},
    {"mark": {"type": "area", "color": "#D95319", "opacity": 0.2}, "encoding": {"y": {"field": "ol", "type": "quantitative"}, "y2": {"field": "oh"}}},
    {"mark": {"type": "area", "color": "#EDB120", "opacity": 0.2}, "encoding": {"y": {"field": "yl", "type": "quantitative"}, "y2": {"field": "yh"}}},
    {"mark": {"type": "line", "color": "#0072BD", "strokeWidth": 1.2}, "encoding": {"y": {"field": "b", "type": "quantitative"}}},
    {"mark": {"type": "line", "color": "#D95319", "strokeWidth": 1.2}, "encoding": {"y": {"field": "o", "type": "quantitative"}}},
    {"mark": {"type": "line", "color": "#EDB120", "strokeWidth": 1.4}, "encoding": {"y": {"field": "y", "type": "quantitative"}}}
   ]},
  {"data": {"name": "i3"}, "mark": {"type": "line", "interpolate": "step-after", "color": "#7E2F8E", "strokeWidth": 2},
   "encoding": {"x": {"field": "t", "type": "quantitative"}, "y": {"field": "c", "type": "quantitative", "scale": {"domain": [0, 120], "nice": false}, "axis": {"orient": "right", "values": [0,50,100], "title": null, "grid": false, "labelPadding": 8, "labelColor": "#7E2F8E", "domainColor": "#7E2F8E"}}}}
 ],
 "resolve": {"scale": {"y": "independent"}, "axis": {"y": "independent"}}},
{"title": {"text": "Random", "dy": 17}, "width": 394, "height": 157,
 "layer": [
  {"data": {"name": "p4"},
   "encoding": {"x": {"field": "t", "type": "quantitative", "scale": {"domain": [0, 24], "nice": false}, "axis": {"values": [0,3,6,9,12,15,18,21,24], "title": null}}},
   "layer": [
    {"mark": {"type": "area", "color": "#0072BD", "opacity": 0.2}, "encoding": {"y": {"field": "bl", "type": "quantitative", "scale": {"domain": [0, 1000], "nice": false}, "axis": {"orient": "left", "values": [0,500,1000], "format": "d", "title": null}}, "y2": {"field": "bh"}}},
    {"mark": {"type": "area", "color": "#D95319", "opacity": 0.2}, "encoding": {"y": {"field": "ol", "type": "quantitative"}, "y2": {"field": "oh"}}},
    {"mark": {"type": "area", "color": "#EDB120", "opacity": 0.2}, "encoding": {"y": {"field": "yl", "type": "quantitative"}, "y2": {"field": "yh"}}},
    {"mark": {"type": "line", "color": "#0072BD", "strokeWidth": 1.2}, "encoding": {"y": {"field": "b", "type": "quantitative"}}},
    {"mark": {"type": "line", "color": "#D95319", "strokeWidth": 1.2}, "encoding": {"y": {"field": "o", "type": "quantitative"}}},
    {"mark": {"type": "line", "color": "#EDB120", "strokeWidth": 1.4}, "encoding": {"y": {"field": "y", "type": "quantitative"}}}
   ]},
  {"data": {"name": "i4"}, "mark": {"type": "line", "interpolate": "step-after", "color": "#7E2F8E", "strokeWidth": 2},
   "encoding": {"x": {"field": "t", "type": "quantitative"}, "y": {"field": "c", "type": "quantitative", "scale": {"domain": [0, 1000], "nice": false}, "axis": {"orient": "right", "values": [0,500,1000], "format": "d", "title": "IPTG Concentration (μM)", "titleColor": "#7E2F8E", "titleAngle": 270, "titlePadding": 30, "grid": false, "labelPadding": 8, "labelColor": "#7E2F8E", "domainColor": "#7E2F8E"}}}}
 ],
 "resolve": {"scale": {"y": "independent"}, "axis": {"y": "independent"}}},
{"title": {"text": "Step-7.5", "dy": 11}, "width": 394, "height": 157,
 "layer": [
  {"data": {"name": "p5"},
   "encoding": {"x": {"field": "t", "type": "quantitative", "scale": {"domain": [0, 24], "nice": false}, "axis": {"values": [0,3,6,9,12,15,18,21,24], "title": "Time (h)", "titlePadding": 10}}},
   "layer": [
    {"mark": {"type": "area", "color": "#0072BD", "opacity": 0.2}, "encoding": {"y": {"field": "bl", "type": "quantitative", "scale": {"domain": [0, 1000], "nice": false}, "axis": {"orient": "left", "values": [0,500,1000], "format": "d", "title": null}}, "y2": {"field": "bh"}}},
    {"mark": {"type": "area", "color": "#D95319", "opacity": 0.2}, "encoding": {"y": {"field": "ol", "type": "quantitative"}, "y2": {"field": "oh"}}},
    {"mark": {"type": "area", "color": "#EDB120", "opacity": 0.2}, "encoding": {"y": {"field": "yl", "type": "quantitative"}, "y2": {"field": "yh"}}},
    {"mark": {"type": "line", "color": "#0072BD", "strokeWidth": 1.2}, "encoding": {"y": {"field": "b", "type": "quantitative"}}},
    {"mark": {"type": "line", "color": "#D95319", "strokeWidth": 1.2}, "encoding": {"y": {"field": "o", "type": "quantitative"}}},
    {"mark": {"type": "line", "color": "#EDB120", "strokeWidth": 1.4}, "encoding": {"y": {"field": "y", "type": "quantitative"}}}
   ]},
  {"data": {"name": "i5"}, "mark": {"type": "line", "interpolate": "step-after", "color": "#7E2F8E", "strokeWidth": 2},
   "encoding": {"x": {"field": "t", "type": "quantitative"}, "y": {"field": "c", "type": "quantitative", "scale": {"domain": [0, 1000], "nice": false}, "axis": {"orient": "right", "values": [0,500,1000], "format": "d", "title": null, "grid": false, "labelPadding": 8, "labelColor": "#7E2F8E", "domainColor": "#7E2F8E"}}}}
 ],
 "resolve": {"scale": {"y": "independent"}, "axis": {"y": "independent"}}},
{"title": {"text": "PulsesX-1000", "dy": 3}, "width": 394, "height": 157,
 "layer": [
  {"data": {"name": "p6"},
   "encoding": {"x": {"field": "t", "type": "quantitative", "scale": {"domain": [0, 24], "nice": false}, "axis": {"values": [0,3,6,9,12,15,18,21,24], "title": "Time (h)", "titlePadding": 10}}},
   "layer": [
    {"mark": {"type": "area", "color": "#0072BD", "opacity": 0.2}, "encoding": {"y": {"field": "bl", "type": "quantitative", "scale": {"domain": [0, 150], "nice": false}, "axis": {"orient": "left", "values": [0,50,100,150], "title": null}}, "y2": {"field": "bh"}}},
    {"mark": {"type": "area", "color": "#D95319", "opacity": 0.2}, "encoding": {"y": {"field": "ol", "type": "quantitative"}, "y2": {"field": "oh"}}},
    {"mark": {"type": "area", "color": "#EDB120", "opacity": 0.2}, "encoding": {"y": {"field": "yl", "type": "quantitative"}, "y2": {"field": "yh"}}},
    {"mark": {"type": "line", "color": "#0072BD", "strokeWidth": 1.2}, "encoding": {"y": {"field": "b", "type": "quantitative"}}},
    {"mark": {"type": "line", "color": "#D95319", "strokeWidth": 1.2}, "encoding": {"y": {"field": "o", "type": "quantitative"}}},
    {"mark": {"type": "line", "color": "#EDB120", "strokeWidth": 1.4}, "encoding": {"y": {"field": "y", "type": "quantitative"}}}
   ]},
  {"data": {"name": "i6"}, "mark": {"type": "line", "interpolate": "step-after", "color": "#7E2F8E", "strokeWidth": 2},
   "encoding": {"x": {"field": "t", "type": "quantitative"}, "y": {"field": "c", "type": "quantitative", "scale": {"domain": [0, 1200], "nice": false}, "axis": {"orient": "right", "values": [0,500,1000], "format": "d", "title": null, "grid": false, "labelPadding": 8, "labelColor": "#7E2F8E", "domainColor": "#7E2F8E"}}}}
 ],
 "resolve": {"scale": {"y": "independent"}, "axis": {"y": "independent"}}}
],
"config": {
 "font": "Liberation Sans",
 "view": {"stroke": "#262626", "strokeWidth": 1, "fill": "white"},
 "axis": {"labelFont": "Liberation Sans", "labelFontSize": 16, "labelColor": "#262626", "domainColor": "#262626", "ticks": false, "labelPadding": 5, "gridColor": "#e3e3e3", "titleFont": "Liberation Sans", "titleFontSize": 16.5, "titleFontWeight": "normal", "titleColor": "#262626", "titlePadding": 6},
 "title": {"font": "Liberation Sans", "fontSize": 18, "fontWeight": "bold", "color": "#000000", "anchor": "middle", "offset": 6, "frame": "group"}
}
}
